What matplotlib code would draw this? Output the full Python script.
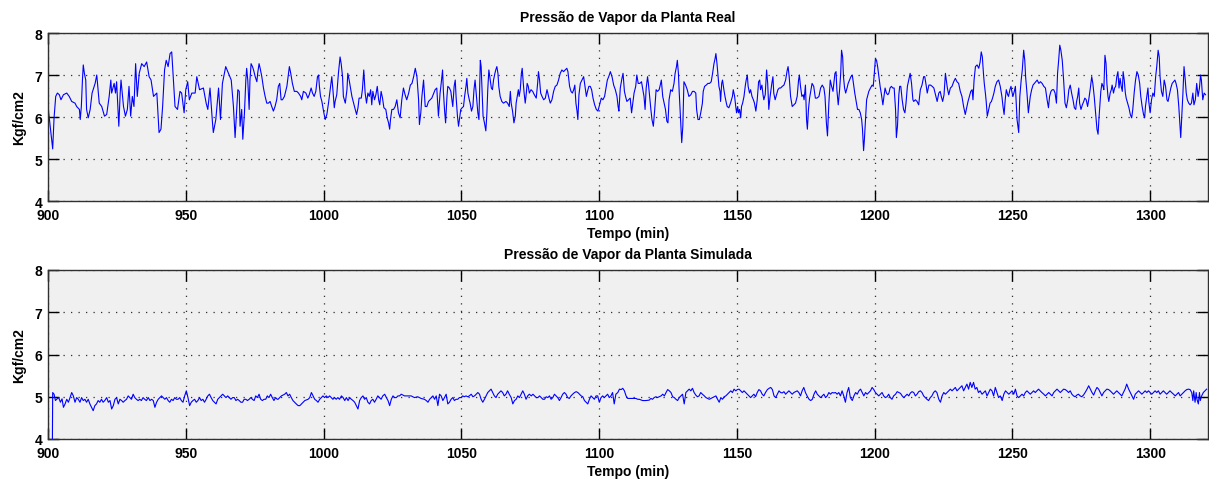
import numpy as np
import matplotlib
matplotlib.use("Agg")
import matplotlib.pyplot as plt

# pressao de vapor (tempo em min, pressao em kgf/cm2)
real_pts = [
    (900.0, 6.25), (901.3, 5.47), (901.7, 5.24), (902.2, 5.98), (902.8, 6.49), (903.4, 6.57),
    (904.1, 6.53), (904.7, 6.41), (905.6, 6.53), (906.8, 6.57), (907.7, 6.49), (908.6, 6.37),
    (909.8, 6.33), (910.4, 6.25), (911.4, 6.18), (911.7, 5.94), (912.1, 6.25), (912.5, 6.88),
    (912.8, 7.24), (913.2, 7.04), (913.7, 6.88), (914.0, 6.18), (914.6, 5.98), (915.3, 6.18),
    (916.0, 6.57), (917.1, 6.80), (917.7, 7.00), (918.6, 6.33), (919.5, 6.25), (920.5, 6.02),
    (921.3, 6.06), (922.2, 6.49), (922.8, 6.88), (923.1, 6.57), (924.0, 6.80), (924.5, 6.57),
    (924.9, 6.84), (925.7, 5.78), (926.2, 6.57), (926.5, 6.88), (927.4, 6.25), (928.1, 6.02),
    (928.8, 6.18), (929.4, 6.73), (930.0, 6.02), (930.6, 6.49), (931.2, 6.25), (931.8, 7.27),
    (932.4, 6.49), (933.1, 7.04), (934.0, 7.27), (934.9, 7.20), (935.8, 7.31), (936.7, 6.96),
    (937.4, 6.88), (938.3, 6.49), (939.5, 6.57), (940.3, 5.63), (941.0, 5.71), (941.6, 6.25),
    (942.3, 7.12), (942.9, 7.35), (943.6, 7.20), (944.3, 7.51), (944.9, 7.55), (945.5, 6.88),
    (946.1, 6.25), (947.0, 6.18), (947.9, 6.61), (948.5, 6.57), (949.4, 6.10), (950.0, 6.65),
    (950.7, 6.84), (951.3, 6.41), (952.2, 6.57), (953.4, 6.57), (954.0, 6.96), (955.0, 6.65),
    (956.4, 6.69), (957.4, 6.33), (958.0, 6.18), (958.8, 6.69), (959.7, 5.86), (960.0, 5.63),
    (960.9, 5.94), (961.9, 6.69), (962.6, 5.94), (963.3, 6.80), (964.5, 7.20), (965.5, 7.04),
    (966.5, 6.88), (967.3, 6.25), (967.9, 5.51), (968.9, 6.65), (969.4, 6.61), (969.7, 5.78),
    (970.3, 6.18), (970.7, 5.47), (971.3, 6.10), (971.8, 6.88), (972.1, 7.16), (972.5, 6.88),
    (973.0, 6.18), (973.3, 6.88), (973.7, 7.27), (974.2, 7.20), (974.6, 7.12), (975.2, 6.96),
    (975.8, 6.84), (976.1, 7.04), (976.6, 7.27), (977.0, 7.16), (977.6, 6.96), (978.2, 6.69),
    (978.8, 6.49), (979.4, 6.33), (980.0, 6.33), (980.6, 6.37), (981.2, 6.25), (981.8, 6.14),
    (982.4, 6.25), (983.0, 6.41), (983.6, 6.73), (984.1, 6.80), (984.6, 6.41), (985.1, 6.41),
    (985.8, 6.49), (986.7, 6.73), (987.3, 7.04), (987.6, 7.20), (988.1, 7.04), (988.7, 6.80),
    (989.4, 6.61), (990.3, 6.61), (990.9, 6.57), (991.7, 6.49), (992.1, 6.41), (992.7, 6.61),
    (993.6, 6.57), (994.3, 6.45), (994.8, 6.53), (995.5, 6.69), (996.0, 6.57), (996.6, 6.49),
    (997.2, 6.61), (997.8, 6.96), (998.2, 7.00), (998.5, 6.73), (998.9, 6.49), (999.4, 6.37),
    (1000.0, 6.14), (1000.6, 5.94), (1001.2, 6.06), (1001.8, 6.33), (1002.4, 6.65), (1003.0, 6.96),
    (1003.4, 6.65), (1003.9, 6.22), (1004.2, 6.37), (1004.8, 6.53), (1005.4, 7.04), (1006.0, 7.43),
    (1006.4, 7.27), (1006.9, 6.96), (1007.2, 6.49), (1007.9, 6.33), (1008.5, 6.65), (1008.8, 7.04),
    (1009.3, 6.88), (1009.7, 6.73), (1010.3, 6.49), (1010.9, 6.33), (1011.5, 6.18), (1012.0, 6.06),
    (1012.5, 6.22), (1012.9, 6.45), (1013.7, 6.45), (1014.1, 6.65), (1014.6, 7.12), (1015.1, 6.57),
    (1015.6, 6.33), (1016.1, 6.57), (1016.6, 6.49), (1017.1, 6.65), (1017.5, 6.29), (1017.9, 6.61),
    (1018.5, 6.41), (1019.0, 6.53), (1019.5, 6.73), (1020.0, 6.41), (1020.4, 6.29), (1020.9, 6.61),
    (1021.4, 6.45), (1021.9, 6.22), (1022.6, 6.18), (1023.1, 5.98), (1023.6, 5.86), (1024.0, 5.71),
    (1024.3, 5.94), (1024.8, 6.18), (1025.4, 6.18), (1026.0, 6.25), (1026.6, 6.41), (1027.2, 6.10),
    (1027.8, 5.98), (1028.4, 6.41), (1029.0, 6.69), (1029.6, 6.53), (1030.2, 6.41), (1030.9, 6.57),
    (1031.5, 6.76), (1032.1, 6.80), (1032.7, 6.96), (1033.3, 7.16), (1033.9, 6.96), (1034.5, 6.41),
    (1034.8, 5.82), (1035.3, 6.10), (1035.7, 6.49), (1036.3, 6.88), (1036.9, 6.25), (1037.5, 6.25),
    (1038.1, 6.37), (1039.3, 6.45), (1040.5, 6.65), (1041.1, 6.69), (1041.7, 6.02), (1042.3, 6.57),
    (1042.7, 6.80), (1043.2, 7.12), (1043.5, 6.61), (1043.9, 6.18), (1044.3, 5.86), (1044.8, 6.49),
    (1045.1, 6.73), (1045.7, 6.69), (1046.2, 6.61), (1046.6, 6.41), (1046.9, 6.25), (1047.4, 6.73),
    (1047.8, 6.88), (1048.1, 6.49), (1048.6, 6.02), (1049.0, 5.78), (1049.4, 5.98), (1049.8, 6.18),
    (1050.3, 6.22), (1050.8, 6.25), (1051.2, 6.49), (1051.7, 6.73), (1052.0, 6.92), (1052.4, 6.57),
    (1052.9, 6.41), (1053.2, 6.33), (1053.7, 6.14), (1054.2, 6.25), (1054.6, 6.65), (1055.0, 6.88),
    (1055.5, 6.49), (1056.0, 6.10), (1056.4, 5.94), (1056.9, 7.35), (1057.2, 7.20), (1057.6, 6.49),
    (1057.9, 6.02), (1058.4, 5.86), (1058.9, 5.67), (1059.3, 6.10), (1059.6, 6.65), (1060.0, 7.12),
    (1060.5, 6.88), (1060.9, 6.69), (1061.3, 6.65), (1061.7, 6.88), (1062.2, 7.04), (1062.5, 7.12),
    (1062.9, 7.20), (1063.3, 7.04), (1063.6, 6.73), (1064.1, 6.49), (1064.7, 6.37), (1065.3, 6.33),
    (1066.2, 6.37), (1066.8, 6.33), (1067.4, 6.25), (1067.8, 6.61), (1068.1, 6.33), (1068.6, 6.14),
    (1069.1, 5.86), (1069.6, 6.02), (1069.9, 6.33), (1070.3, 6.49), (1070.7, 6.65), (1071.0, 6.49),
    (1071.4, 6.65), (1071.8, 7.04), (1072.1, 7.16), (1072.5, 6.80), (1072.8, 6.57), (1073.2, 6.33),
    (1073.6, 6.57), (1073.9, 6.80), (1074.3, 6.73), (1074.7, 6.57), (1075.3, 6.65), (1075.9, 6.61),
    (1076.5, 6.53), (1077.2, 6.45), (1077.7, 6.80), (1078.0, 7.08), (1078.4, 6.88), (1078.8, 6.57),
    (1079.3, 6.49), (1079.9, 6.41), (1080.5, 6.45), (1081.1, 6.65), (1081.4, 6.57), (1081.8, 6.45),
    (1082.3, 6.33), (1082.9, 6.41), (1083.5, 6.61), (1084.1, 6.73), (1084.7, 6.76), (1085.3, 6.88),
    (1085.9, 7.04), (1086.5, 7.12), (1087.1, 7.08), (1087.7, 7.12), (1088.3, 7.16), (1088.7, 7.08),
    (1089.3, 6.73), (1089.8, 6.61), (1090.3, 6.57), (1090.8, 6.65), (1091.2, 6.76), (1091.6, 6.33),
    (1092.0, 6.14), (1092.3, 5.94), (1092.7, 6.53), (1093.2, 6.80), (1093.8, 6.88), (1094.4, 6.96),
    (1094.9, 6.73), (1095.4, 6.49), (1095.8, 6.61), (1096.3, 6.73), (1096.8, 6.73), (1097.3, 6.65),
    (1097.8, 6.45), (1098.4, 6.29), (1099.0, 6.18), (1099.6, 6.14), (1100.2, 6.29), (1100.8, 6.45),
    (1101.4, 6.41), (1102.0, 6.49), (1102.5, 6.69), (1103.0, 6.88), (1103.5, 6.96), (1104.1, 7.08),
    (1104.7, 6.96), (1105.3, 6.76), (1105.9, 6.65), (1106.5, 6.49), (1106.9, 6.25), (1107.2, 6.14),
    (1107.7, 6.69), (1108.3, 6.92), (1108.7, 7.04), (1109.2, 6.61), (1109.6, 6.49), (1110.1, 6.37),
    (1110.7, 6.41), (1111.3, 6.45), (1111.8, 6.10), (1112.1, 6.25), (1112.7, 6.57), (1113.3, 6.73),
    (1113.7, 7.00), (1114.2, 6.80), (1114.8, 6.80), (1115.4, 6.84), (1116.0, 6.61), (1116.3, 6.49),
    (1116.7, 6.18), (1117.1, 6.69), (1117.6, 6.96), (1117.9, 6.80), (1118.4, 6.45), (1118.8, 6.18),
    (1119.2, 5.94), (1119.7, 5.78), (1120.2, 6.18), (1120.7, 6.65), (1121.2, 6.61), (1121.8, 6.65),
    (1122.1, 6.73), (1122.6, 6.88), (1123.1, 6.49), (1123.6, 6.33), (1124.1, 6.18), (1124.6, 5.90),
    (1125.0, 5.86), (1125.4, 6.41), (1126.0, 6.65), (1126.6, 6.61), (1127.2, 6.80), (1127.6, 7.04),
    (1128.1, 7.20), (1128.4, 7.35), (1128.8, 7.04), (1129.1, 6.57), (1129.6, 5.94), (1130.0, 5.39),
    (1130.4, 5.78), (1130.8, 6.84), (1131.4, 6.76), (1132.0, 6.65), (1132.6, 6.49), (1133.3, 6.53),
    (1133.9, 6.61), (1134.5, 6.61), (1135.1, 6.57), (1135.4, 6.18), (1135.9, 5.94), (1136.4, 5.94),
    (1136.9, 6.10), (1137.5, 6.33), (1137.8, 6.61), (1138.3, 6.73), (1138.9, 6.76), (1139.5, 6.80),
    (1140.1, 6.80), (1140.7, 6.84), (1141.2, 7.04), (1141.7, 7.27), (1142.1, 7.39), (1142.4, 7.51),
    (1142.8, 7.27), (1143.2, 6.96), (1143.5, 6.73), (1143.9, 6.61), (1144.1, 6.37), (1144.5, 6.80),
    (1144.8, 6.88), (1145.3, 6.65), (1145.7, 6.49), (1146.2, 6.33), (1146.5, 6.25), (1147.1, 6.22),
    (1147.7, 6.33), (1148.4, 6.49), (1148.7, 6.65), (1149.2, 6.49), (1149.6, 6.25), (1149.9, 6.10),
    (1150.3, 6.25), (1150.6, 6.10), (1151.0, 6.18), (1151.4, 5.98), (1151.7, 6.25), (1152.1, 6.33),
    (1152.6, 6.49), (1153.1, 6.76), (1153.4, 6.88), (1153.8, 7.00), (1154.1, 6.73), (1154.6, 6.57),
    (1155.0, 6.65), (1155.5, 6.49), (1156.0, 6.41), (1156.4, 6.33), (1156.9, 6.14), (1157.4, 6.41),
    (1157.9, 6.84), (1158.3, 6.88), (1158.6, 6.65), (1159.1, 6.76), (1159.5, 6.53), (1159.8, 6.41),
    (1160.3, 6.53), (1160.8, 7.12), (1161.2, 6.80), (1161.6, 6.18), (1162.0, 6.45), (1162.4, 6.65),
    (1162.7, 6.80), (1163.1, 6.96), (1163.4, 6.57), (1163.9, 6.41), (1164.4, 6.53), (1164.9, 6.65),
    (1165.4, 6.69), (1165.9, 6.69), (1166.5, 6.73), (1167.1, 6.76), (1167.7, 6.88), (1168.3, 7.12),
    (1168.6, 7.20), (1169.0, 6.96), (1169.5, 6.49), (1170.1, 6.25), (1170.7, 6.29), (1171.3, 6.33),
    (1171.9, 6.49), (1172.4, 6.88), (1172.7, 7.00), (1173.1, 6.73), (1173.6, 6.49), (1174.1, 6.53),
    (1174.4, 6.41), (1174.9, 6.76), (1175.3, 5.94), (1175.6, 5.71), (1176.0, 6.18), (1176.4, 6.45),
    (1176.9, 6.65), (1177.3, 6.80), (1177.9, 6.73), (1178.5, 6.45), (1179.1, 6.45), (1179.8, 6.49),
    (1180.4, 6.69), (1181.0, 6.76), (1181.6, 6.69), (1182.0, 6.49), (1182.5, 5.86), (1182.9, 5.55),
    (1183.4, 6.33), (1183.9, 6.88), (1184.4, 6.73), (1184.9, 6.61), (1185.2, 6.80), (1185.6, 7.04),
    (1186.0, 7.08), (1186.3, 6.65), (1186.8, 6.29), (1187.3, 6.65), (1187.7, 7.04), (1188.0, 7.59),
    (1188.4, 7.43), (1188.7, 6.96), (1189.1, 6.69), (1189.5, 6.57), (1190.0, 6.69), (1190.4, 6.80),
    (1190.9, 6.88), (1191.4, 6.96), (1191.9, 7.00), (1192.4, 6.76), (1192.8, 6.57), (1193.3, 6.37),
    (1193.8, 6.18), (1194.3, 6.18), (1194.8, 6.10), (1195.3, 5.94), (1195.6, 5.71), (1196.0, 5.20),
    (1196.3, 5.47), (1196.7, 5.94), (1197.1, 6.41), (1197.6, 6.53), (1197.9, 6.61), (1198.5, 6.69),
    (1199.1, 6.76), (1199.5, 6.73), (1199.8, 6.96), (1200.3, 7.39), (1200.7, 7.35), (1201.1, 7.20),
    (1201.5, 7.00), (1202.0, 6.73), (1202.5, 6.53), (1203.0, 6.29), (1203.4, 6.49), (1203.8, 6.69),
    (1204.3, 6.57), (1204.8, 6.53), (1205.2, 6.57), (1205.6, 6.69), (1206.1, 6.73), (1206.6, 6.69),
    (1207.1, 6.69), (1207.6, 6.18), (1207.9, 5.51), (1208.3, 5.78), (1208.8, 6.53), (1209.1, 6.73),
    (1209.5, 6.73), (1210.0, 6.41), (1210.5, 6.18), (1211.0, 6.10), (1211.4, 6.33), (1211.9, 6.73),
    (1212.4, 6.88), (1212.9, 7.04), (1213.4, 6.80), (1213.9, 6.41), (1214.2, 6.37), (1214.8, 6.41),
    (1215.4, 6.37), (1216.0, 6.29), (1216.6, 6.65), (1217.2, 6.76), (1217.8, 6.96), (1218.2, 6.96),
    (1218.7, 6.76), (1219.1, 6.57), (1219.7, 6.76), (1220.3, 6.76), (1220.9, 6.73), (1221.5, 6.69),
    (1222.1, 6.53), (1222.7, 6.37), (1223.3, 6.57), (1223.8, 6.61), (1224.2, 6.49), (1224.7, 6.37),
    (1225.2, 6.53), (1225.7, 7.04), (1226.1, 6.84), (1226.4, 6.69), (1226.9, 6.53), (1227.5, 6.69),
    (1228.1, 6.73), (1228.7, 6.84), (1229.3, 6.92), (1229.9, 6.84), (1230.5, 6.80), (1231.1, 6.61),
    (1231.7, 6.49), (1232.3, 6.25), (1232.9, 6.06), (1233.4, 6.22), (1233.9, 6.37), (1234.4, 6.49),
    (1234.9, 6.61), (1235.4, 6.65), (1235.7, 6.41), (1236.1, 6.88), (1236.6, 7.20), (1237.2, 7.24),
    (1237.8, 7.16), (1238.3, 7.31), (1238.7, 7.55), (1239.1, 7.43), (1239.5, 7.04), (1239.8, 6.80),
    (1240.2, 6.57), (1240.5, 6.37), (1240.9, 6.02), (1241.4, 6.18), (1241.9, 6.33), (1242.4, 6.37),
    (1242.8, 6.45), (1243.3, 6.57), (1243.8, 6.73), (1244.4, 6.84), (1245.0, 6.88), (1245.6, 6.73),
    (1246.2, 6.49), (1246.6, 6.25), (1247.0, 6.06), (1247.4, 6.41), (1247.8, 6.65), (1248.3, 6.53),
    (1248.6, 6.49), (1249.1, 6.65), (1249.5, 6.73), (1249.8, 6.61), (1250.2, 6.49), (1250.7, 6.61),
    (1251.1, 6.73), (1251.7, 5.94), (1252.3, 5.63), (1252.7, 6.49), (1253.2, 6.88), (1253.6, 7.12),
    (1254.1, 7.59), (1254.5, 7.35), (1254.8, 6.96), (1255.3, 6.57), (1255.8, 6.10), (1256.2, 6.33),
    (1256.5, 6.49), (1257.0, 6.65), (1257.5, 6.76), (1258.0, 6.80), (1258.5, 6.84), (1259.0, 6.88),
    (1259.6, 6.80), (1260.2, 6.84), (1260.8, 6.80), (1261.4, 6.73), (1262.0, 6.69), (1262.6, 6.41),
    (1263.1, 6.22), (1263.5, 6.49), (1264.0, 6.61), (1264.5, 6.65), (1265.0, 6.65), (1265.5, 6.57),
    (1266.0, 6.33), (1266.4, 7.04), (1266.8, 7.35), (1267.2, 7.71), (1267.6, 7.59), (1268.1, 7.35),
    (1268.6, 6.88), (1269.1, 6.33), (1269.6, 6.22), (1270.1, 6.41), (1270.5, 6.65), (1271.0, 6.76),
    (1271.5, 6.57), (1272.0, 6.41), (1272.5, 6.22), (1273.0, 6.18), (1273.3, 6.37), (1273.7, 6.49),
    (1274.1, 6.69), (1274.4, 6.33), (1274.9, 6.18), (1275.4, 6.29), (1275.9, 6.37), (1276.3, 6.45),
    (1276.8, 6.41), (1277.3, 6.25), (1277.8, 6.45), (1278.3, 6.69), (1278.8, 6.96), (1279.2, 6.80),
    (1279.7, 6.49), (1280.2, 6.10), (1280.7, 5.71), (1281.1, 5.59), (1281.4, 5.94), (1281.8, 6.33),
    (1282.1, 6.61), (1282.5, 6.80), (1282.9, 6.73), (1283.2, 6.65), (1283.6, 7.47), (1284.0, 7.27),
    (1284.3, 6.80), (1284.7, 6.49), (1285.0, 6.37), (1285.5, 6.57), (1285.9, 6.65), (1286.2, 6.76),
    (1286.7, 6.57), (1287.1, 6.69), (1287.5, 6.73), (1287.9, 6.96), (1288.3, 7.08), (1288.7, 6.69),
    (1289.1, 6.92), (1289.5, 6.73), (1289.9, 6.61), (1290.2, 7.08), (1290.6, 6.88), (1291.0, 6.57),
    (1291.3, 6.45), (1291.8, 6.33), (1292.3, 6.22), (1292.8, 6.06), (1293.3, 5.98), (1293.7, 6.18),
    (1294.2, 6.57), (1294.7, 6.88), (1295.2, 7.08), (1295.7, 7.00), (1296.2, 6.80), (1296.6, 6.49),
    (1297.1, 6.25), (1297.6, 6.06), (1298.0, 5.98), (1298.3, 6.25), (1298.8, 6.49), (1299.2, 6.69),
    (1299.5, 6.37), (1300.0, 6.10), (1300.5, 6.41), (1301.0, 6.57), (1301.5, 6.49), (1302.0, 6.96),
    (1302.4, 7.20), (1302.9, 7.59), (1303.3, 7.43), (1303.6, 6.96), (1304.1, 6.61), (1304.6, 6.49),
    (1305.1, 6.88), (1305.6, 6.73), (1306.1, 6.41), (1306.5, 6.37), (1307.0, 6.53), (1307.5, 6.69),
    (1308.0, 6.80), (1308.5, 6.84), (1309.0, 6.88), (1309.4, 6.80), (1309.9, 6.65), (1310.4, 6.25),
    (1310.9, 5.75), (1311.1, 5.51), (1311.5, 6.02), (1311.9, 6.57), (1312.3, 7.20), (1312.7, 6.92),
    (1313.1, 6.57), (1313.5, 6.41), (1314.0, 6.33), (1314.5, 6.29), (1315.0, 6.33), (1315.5, 6.57),
    (1315.9, 6.29), (1316.4, 6.41), (1316.9, 6.80), (1317.4, 6.49), (1317.9, 6.69), (1318.3, 7.00),
    (1318.6, 6.88), (1319.1, 6.41), (1319.6, 6.57), (1320.1, 6.53),
]

sim_pts = [
    (901.6, 4.00), (901.7, 5.10), (902.2, 5.06), (902.7, 4.91), (903.3, 4.95), (903.9, 4.98),
    (904.5, 4.87), (905.1, 4.95), (905.6, 4.75), (906.2, 4.83), (906.8, 4.94), (907.4, 4.87),
    (908.0, 4.98), (908.6, 5.10), (909.2, 5.02), (909.8, 4.87), (910.4, 4.98), (911.0, 4.94),
    (911.6, 4.87), (912.2, 4.98), (912.8, 4.91), (913.4, 4.94), (914.0, 4.87), (914.6, 4.94),
    (915.2, 4.83), (915.8, 4.75), (916.4, 4.67), (917.0, 4.79), (917.6, 4.83), (918.2, 4.91),
    (918.8, 4.87), (919.4, 4.94), (920.0, 4.87), (920.6, 4.91), (921.3, 4.98), (921.9, 4.87),
    (922.5, 4.91), (923.1, 4.71), (923.7, 4.79), (924.3, 4.94), (924.9, 4.98), (925.5, 4.83),
    (926.1, 4.94), (926.7, 4.91), (927.3, 4.87), (927.9, 4.91), (928.5, 4.94), (929.1, 5.02),
    (929.7, 4.98), (930.3, 4.94), (930.9, 5.06), (931.5, 4.98), (932.1, 4.94), (932.7, 4.91),
    (933.3, 4.94), (933.9, 4.91), (934.5, 4.98), (935.1, 4.94), (935.7, 4.91), (936.4, 4.98),
    (937.0, 4.91), (937.6, 4.94), (938.2, 4.91), (938.8, 4.75), (939.4, 4.87), (940.0, 4.94),
    (940.6, 4.98), (941.2, 5.02), (941.8, 4.98), (942.4, 4.94), (943.0, 4.98), (943.6, 4.91),
    (944.2, 4.87), (944.8, 4.94), (945.4, 4.91), (946.0, 4.98), (946.6, 4.94), (947.2, 4.94),
    (947.8, 4.98), (948.4, 4.91), (949.0, 4.87), (949.6, 5.02), (950.2, 5.14), (950.8, 4.98),
    (951.4, 4.79), (952.0, 4.87), (952.6, 4.91), (953.2, 4.94), (953.8, 4.87), (954.4, 4.91),
    (955.0, 4.98), (955.6, 4.91), (956.2, 4.94), (956.8, 4.87), (957.4, 4.94), (958.0, 5.02),
    (958.6, 5.06), (959.2, 4.98), (959.8, 4.91), (960.4, 4.87), (961.0, 4.83), (961.6, 4.94),
    (962.2, 4.98), (962.8, 5.02), (963.4, 5.06), (964.0, 5.02), (964.6, 4.98), (965.2, 5.02),
    (965.8, 4.98), (966.4, 4.94), (967.0, 4.98), (967.6, 4.98), (968.2, 4.91), (968.8, 4.94),
    (969.4, 4.91), (970.0, 4.87), (970.6, 4.87), (971.2, 4.94), (971.8, 4.94), (972.4, 4.91),
    (973.0, 4.94), (973.6, 4.98), (974.2, 4.94), (974.8, 4.91), (975.4, 5.02), (976.0, 4.98),
    (976.6, 5.06), (977.2, 4.94), (977.8, 4.91), (978.4, 4.94), (979.0, 4.94), (979.6, 5.02),
    (980.2, 4.98), (980.8, 5.06), (981.4, 4.98), (982.0, 4.91), (982.6, 4.98), (983.2, 4.94),
    (983.5, 4.94), (984.7, 5.02), (985.9, 5.06), (986.5, 5.10), (987.1, 5.02), (987.7, 5.06),
    (988.3, 4.98), (988.9, 4.91), (989.5, 4.87), (990.1, 4.83), (990.8, 4.79), (991.4, 4.79),
    (992.0, 4.83), (992.6, 4.87), (993.2, 4.91), (994.4, 4.94), (995.0, 4.98), (995.6, 5.10),
    (996.2, 5.02), (996.8, 4.94), (997.4, 4.91), (998.0, 4.87), (998.6, 4.94), (999.2, 4.98),
    (999.8, 5.02), (1000.4, 4.98), (1001.0, 5.02), (1001.6, 4.98), (1002.2, 5.02), (1002.8, 4.98),
    (1003.4, 4.94), (1004.0, 4.98), (1004.6, 4.94), (1005.2, 4.98), (1005.8, 4.94), (1006.5, 5.02),
    (1007.1, 4.98), (1007.7, 4.91), (1008.3, 4.98), (1008.9, 4.91), (1009.5, 4.98), (1010.1, 4.94),
    (1010.7, 4.91), (1011.3, 4.87), (1011.9, 4.79), (1012.5, 4.71), (1013.1, 4.91), (1013.7, 4.98),
    (1014.3, 5.02), (1014.9, 4.94), (1015.5, 4.98), (1016.1, 4.87), (1016.7, 4.83), (1017.3, 4.91),
    (1017.9, 4.94), (1018.5, 4.87), (1019.1, 4.94), (1019.7, 5.02), (1020.3, 4.98), (1020.9, 4.94),
    (1021.5, 5.02), (1022.2, 5.06), (1022.8, 4.98), (1023.4, 4.91), (1024.0, 4.79), (1024.6, 4.94),
    (1025.2, 5.02), (1025.8, 4.98), (1026.4, 4.98), (1027.0, 5.02), (1027.6, 5.02), (1028.2, 5.06),
    (1028.8, 5.04), (1029.4, 5.02), (1030.6, 5.02), (1031.8, 5.02), (1033.0, 4.98), (1034.2, 5.00),
    (1035.4, 4.96), (1036.6, 4.94), (1037.3, 4.91), (1037.9, 4.87), (1038.5, 4.94), (1039.1, 4.98),
    (1039.7, 5.02), (1040.3, 4.94), (1040.9, 5.02), (1041.5, 4.79), (1042.1, 5.06), (1042.7, 5.02),
    (1043.3, 4.91), (1043.9, 4.98), (1044.5, 5.06), (1045.1, 4.83), (1045.7, 4.87), (1046.3, 4.94),
    (1046.9, 4.98), (1047.5, 4.91), (1048.1, 4.94), (1048.7, 4.94), (1049.3, 4.98), (1049.9, 4.98),
    (1050.5, 5.02), (1051.1, 5.00), (1051.7, 5.02), (1052.3, 5.00), (1052.9, 5.02), (1053.6, 5.06),
    (1054.2, 5.00), (1054.8, 5.02), (1055.4, 5.06), (1056.0, 5.10), (1056.6, 5.06), (1057.2, 4.94),
    (1057.8, 4.87), (1058.4, 4.94), (1059.0, 5.02), (1059.6, 5.10), (1060.2, 5.14), (1060.8, 5.18),
    (1061.4, 5.10), (1062.0, 5.02), (1062.6, 4.98), (1063.2, 5.06), (1063.8, 5.10), (1064.4, 5.14),
    (1065.0, 5.10), (1065.6, 5.02), (1066.2, 5.06), (1066.8, 5.14), (1067.4, 5.06), (1068.1, 4.98),
    (1068.7, 4.83), (1069.3, 4.91), (1069.9, 4.94), (1070.5, 5.02), (1071.1, 4.98), (1071.7, 5.06),
    (1072.3, 5.14), (1072.9, 5.06), (1073.5, 4.94), (1074.1, 5.02), (1074.7, 5.06), (1075.4, 5.02),
    (1076.0, 5.06), (1076.6, 5.02), (1077.2, 4.98), (1077.8, 4.98), (1078.4, 5.02), (1079.0, 4.98),
    (1079.6, 4.94), (1080.2, 4.94), (1080.8, 5.00), (1081.4, 4.98), (1082.0, 5.02), (1082.6, 4.94),
    (1083.2, 4.98), (1083.8, 5.06), (1084.4, 5.02), (1085.0, 4.98), (1085.6, 4.91), (1086.2, 4.98),
    (1086.8, 5.06), (1087.4, 5.10), (1088.0, 5.06), (1088.6, 4.98), (1089.2, 4.96), (1089.8, 5.02),
    (1090.4, 5.06), (1091.1, 5.10), (1091.7, 5.12), (1092.3, 5.10), (1092.9, 5.06), (1093.5, 5.02),
    (1094.1, 5.00), (1094.7, 4.91), (1095.3, 4.87), (1095.9, 4.83), (1096.5, 4.94), (1097.1, 5.02),
    (1097.7, 4.98), (1098.3, 4.94), (1098.9, 5.02), (1099.5, 5.02), (1100.1, 4.87), (1100.7, 4.98),
    (1101.3, 5.02), (1101.9, 4.98), (1102.5, 5.02), (1103.1, 5.06), (1103.7, 4.98), (1104.3, 5.02),
    (1104.9, 5.10), (1105.5, 4.83), (1106.1, 5.06), (1106.8, 5.10), (1107.4, 5.18), (1108.0, 5.17),
    (1108.6, 5.20), (1109.2, 5.14), (1109.8, 5.02), (1110.4, 4.96), (1111.0, 4.96), (1112.2, 4.96),
    (1113.4, 4.96), (1114.0, 4.94), (1114.6, 4.94), (1115.8, 4.91), (1117.0, 4.91), (1118.2, 4.92),
    (1118.8, 4.96), (1119.4, 4.94), (1120.0, 4.98), (1120.6, 5.00), (1121.2, 4.98), (1121.8, 5.00),
    (1122.5, 5.02), (1123.1, 5.06), (1123.7, 5.02), (1124.3, 5.10), (1124.9, 5.17), (1125.5, 5.14),
    (1126.1, 5.10), (1126.7, 5.00), (1127.3, 4.98), (1127.9, 4.94), (1128.5, 4.91), (1129.1, 4.98),
    (1129.7, 5.02), (1130.3, 5.06), (1130.9, 4.83), (1131.5, 5.10), (1132.1, 5.14), (1132.7, 5.18),
    (1133.3, 5.14), (1133.9, 5.20), (1134.5, 5.10), (1135.1, 5.04), (1135.7, 5.00), (1136.3, 5.02),
    (1136.9, 5.10), (1137.5, 5.06), (1138.2, 5.02), (1138.8, 4.98), (1139.4, 4.96), (1140.0, 4.94),
    (1140.6, 4.96), (1141.2, 4.98), (1141.8, 5.00), (1142.4, 5.02), (1143.0, 4.94), (1143.6, 4.87),
    (1144.2, 4.98), (1144.8, 4.94), (1145.4, 5.00), (1146.0, 5.02), (1146.6, 5.06), (1147.2, 5.10),
    (1147.8, 5.14), (1148.4, 5.10), (1149.0, 5.18), (1149.6, 5.14), (1150.2, 5.17), (1150.8, 5.18),
    (1151.4, 5.14), (1152.0, 5.10), (1152.6, 5.14), (1153.2, 5.10), (1153.8, 5.06), (1154.4, 5.02),
    (1155.0, 4.98), (1155.6, 5.02), (1156.2, 5.06), (1156.8, 5.00), (1157.4, 5.10), (1158.0, 5.17),
    (1158.6, 5.14), (1159.2, 5.06), (1159.8, 5.02), (1160.4, 5.10), (1161.1, 5.17), (1161.7, 5.20),
    (1162.3, 5.22), (1162.9, 5.17), (1163.5, 5.02), (1164.1, 4.98), (1164.7, 5.06), (1165.3, 5.14),
    (1165.9, 5.10), (1166.5, 5.09), (1167.1, 5.12), (1167.7, 5.06), (1168.3, 5.10), (1168.9, 5.14),
    (1169.5, 5.10), (1170.1, 5.06), (1170.7, 5.10), (1171.3, 5.12), (1171.9, 5.14), (1172.5, 5.10),
    (1173.1, 5.02), (1173.7, 5.14), (1174.3, 5.22), (1174.9, 5.10), (1175.5, 5.02), (1176.2, 4.94),
    (1176.8, 4.91), (1177.4, 4.94), (1178.0, 5.06), (1178.6, 5.14), (1179.2, 5.06), (1179.8, 5.02),
    (1180.4, 4.98), (1181.0, 5.02), (1181.6, 5.06), (1182.2, 4.98), (1182.8, 5.02), (1183.4, 5.10),
    (1184.0, 5.06), (1184.6, 5.10), (1185.2, 5.09), (1185.8, 5.10), (1186.4, 5.06), (1187.0, 5.10),
    (1187.6, 5.02), (1188.2, 5.14), (1188.8, 5.02), (1189.4, 4.87), (1190.0, 5.10), (1190.6, 5.22),
    (1191.2, 4.98), (1191.9, 4.91), (1192.5, 5.02), (1193.1, 5.10), (1193.7, 5.06), (1194.3, 5.14),
    (1194.9, 5.18), (1195.5, 5.10), (1196.1, 5.02), (1196.7, 5.10), (1197.3, 5.06), (1197.9, 5.10),
    (1198.5, 5.14), (1199.1, 5.22), (1199.7, 5.17), (1200.3, 5.10), (1200.9, 5.06), (1201.5, 5.02),
    (1202.1, 5.06), (1202.7, 5.10), (1203.3, 5.02), (1203.9, 4.98), (1204.5, 5.00), (1205.1, 5.06),
    (1205.7, 4.98), (1206.3, 4.94), (1206.9, 5.02), (1207.6, 5.06), (1208.2, 5.12), (1208.8, 5.10),
    (1209.4, 5.08), (1210.0, 5.02), (1210.6, 4.98), (1211.2, 5.02), (1211.8, 5.06), (1212.4, 5.02),
    (1213.0, 5.09), (1213.6, 5.12), (1214.2, 5.10), (1214.8, 5.02), (1215.4, 5.06), (1216.0, 5.12),
    (1216.6, 5.14), (1217.2, 5.10), (1217.8, 5.02), (1218.4, 4.98), (1219.0, 4.94), (1219.6, 4.91),
    (1220.2, 4.98), (1220.8, 5.02), (1221.4, 5.10), (1222.0, 5.14), (1222.6, 5.10), (1223.3, 4.94),
    (1223.9, 4.87), (1224.5, 5.02), (1225.1, 5.10), (1225.7, 5.06), (1226.3, 5.10), (1226.9, 5.14),
    (1227.5, 5.18), (1228.1, 5.14), (1228.7, 5.18), (1229.3, 5.22), (1229.9, 5.14), (1230.5, 5.18),
    (1231.1, 5.22), (1231.7, 5.26), (1232.3, 5.14), (1232.9, 5.22), (1233.5, 5.30), (1234.1, 5.18),
    (1234.7, 5.34), (1235.3, 5.22), (1235.9, 5.34), (1236.5, 5.18), (1237.1, 5.22), (1237.7, 5.10),
    (1238.3, 5.14), (1239.0, 5.06), (1239.6, 5.10), (1240.2, 5.14), (1240.8, 5.02), (1241.4, 5.10),
    (1242.0, 5.18), (1242.6, 5.14), (1243.2, 5.02), (1243.8, 5.22), (1244.4, 5.10), (1245.0, 4.98),
    (1245.6, 5.02), (1246.3, 4.91), (1246.9, 5.06), (1247.5, 5.14), (1248.1, 5.10), (1248.7, 5.06),
    (1249.3, 5.10), (1249.9, 5.14), (1250.5, 5.06), (1251.1, 5.18), (1251.7, 5.02), (1252.3, 4.98),
    (1252.9, 5.02), (1253.5, 5.06), (1254.1, 5.02), (1254.7, 5.10), (1255.3, 5.14), (1255.9, 5.10),
    (1256.5, 5.06), (1257.1, 5.10), (1257.7, 5.14), (1258.3, 5.10), (1258.9, 5.14), (1259.5, 5.18),
    (1260.1, 5.14), (1260.7, 5.10), (1261.4, 5.06), (1262.0, 5.02), (1262.6, 5.06), (1263.2, 5.10),
    (1263.8, 5.06), (1264.4, 5.02), (1265.0, 5.10), (1265.6, 5.14), (1266.2, 5.18), (1266.8, 5.14),
    (1267.4, 5.10), (1268.0, 5.14), (1268.6, 5.18), (1269.2, 5.17), (1269.8, 5.14), (1270.4, 5.10),
    (1271.0, 5.14), (1271.6, 5.06), (1272.2, 5.02), (1272.8, 5.00), (1273.4, 5.04), (1274.0, 5.06),
    (1274.6, 5.02), (1275.2, 5.00), (1275.8, 5.04), (1276.4, 5.10), (1277.1, 5.18), (1277.7, 5.26),
    (1278.3, 5.18), (1278.9, 5.10), (1279.5, 5.04), (1280.1, 5.14), (1280.7, 5.22), (1281.3, 5.18),
    (1281.9, 5.10), (1282.5, 5.02), (1283.1, 5.10), (1283.7, 5.14), (1284.3, 5.18), (1284.9, 5.17),
    (1285.5, 5.14), (1286.1, 5.10), (1286.7, 5.06), (1287.3, 5.10), (1287.9, 5.14), (1288.5, 5.10),
    (1289.1, 5.06), (1289.7, 5.02), (1290.3, 5.10), (1290.9, 5.18), (1291.5, 5.30), (1292.2, 5.18),
    (1292.8, 5.10), (1293.4, 5.02), (1294.0, 4.94), (1294.6, 5.06), (1295.2, 5.10), (1295.8, 5.14),
    (1296.4, 5.10), (1297.0, 5.06), (1297.6, 5.10), (1298.2, 5.14), (1298.8, 5.10), (1299.4, 5.14),
    (1300.0, 5.10), (1300.6, 5.06), (1301.2, 5.10), (1301.8, 5.14), (1302.4, 5.10), (1303.0, 5.14),
    (1303.6, 5.06), (1304.2, 5.10), (1304.8, 5.14), (1305.4, 5.10), (1306.0, 5.06), (1306.6, 5.10),
    (1307.2, 5.14), (1307.8, 5.10), (1308.5, 5.06), (1309.1, 5.02), (1309.7, 5.06), (1310.3, 5.10),
    (1310.9, 5.02), (1311.5, 5.06), (1312.1, 5.10), (1312.7, 5.14), (1313.3, 5.17), (1313.9, 5.18),
    (1314.5, 5.17), (1315.1, 5.10), (1315.5, 4.91), (1315.8, 5.14), (1316.3, 4.87), (1316.7, 5.10),
    (1317.0, 4.94), (1317.5, 4.83), (1317.9, 5.10), (1318.2, 4.91), (1318.7, 5.02), (1319.3, 5.10),
    (1319.9, 5.14), (1320.5, 5.18),
]

t_real, p_real = np.array(real_pts).T
t_sim, p_sim = np.array(sim_pts).T

xticks = list(range(900, 1301, 50))
yticks = [4, 5, 6, 7, 8]

plt.rcParams['font.family'] = ['Liberation Sans', 'DejaVu Sans']
plt.rcParams['font.weight'] = 'bold'
plt.rcParams['font.size'] = 10

fig = plt.figure(figsize=(12.09, 4.85), dpi=100)
ax1 = fig.add_axes([48/1209, 1 - 202/485, 1160/1209, 168/485])
ax2 = fig.add_axes([48/1209, 1 - 440/485, 1160/1209, 169/485])

paineis = [
    (ax1, t_real, p_real, "Pressão de Vapor da Planta Real"),
    (ax2, t_sim, p_sim, "Pressão de Vapor da Planta Simulada"),
]

for ax, t, p, titulo in paineis:
    ax.set_facecolor('#f0f0f0')
    ax.plot(t, p, color='#0000ff', linewidth=0.8)
    ax.set_xlim(900, 1321)
    ax.set_ylim(4, 8)
    ax.set_xticks(xticks)
    ax.set_yticks(yticks)
    ax.grid(True, color='#303030', linestyle=(0, (1, 5)), linewidth=0.9)
    ax.tick_params(direction='in', length=8, width=1, top=True, right=True,
                   labelsize=10, colors='black')
    ax.tick_params(axis='x', pad=5)
    ax.tick_params(axis='y', pad=4)
    for sp in ax.spines.values():
        sp.set_color('#303030')
        sp.set_linewidth(1)
    ax.set_title(titulo, fontsize=10, fontweight='bold', pad=9)
    ax.set_xlabel("Tempo (min)", fontsize=10, fontweight='bold', labelpad=3)
    ax.set_ylabel("Kgf/cm2", fontsize=10, fontweight='bold', labelpad=6)

fig.savefig("out.png", dpi=100, facecolor='white')
